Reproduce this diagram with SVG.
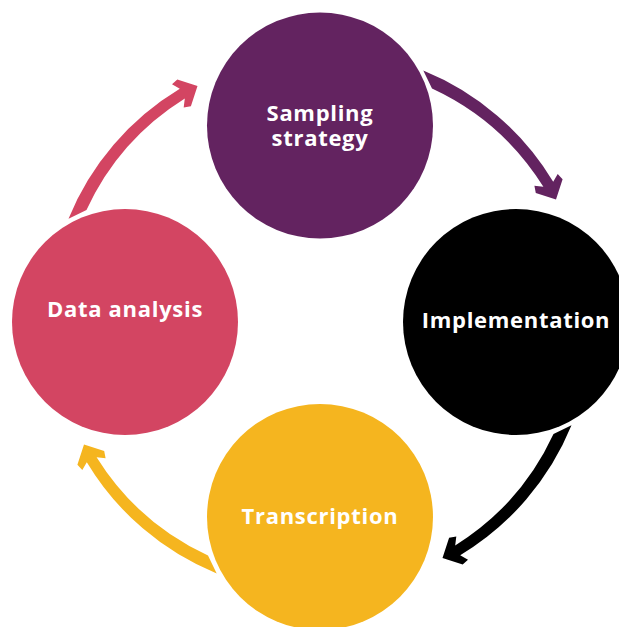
<svg xmlns="http://www.w3.org/2000/svg" width="619" height="627" viewBox="0 0 619 627">
<defs>
<style>
.lbl{font-family:"Open Sans","Liberation Sans",sans-serif;font-weight:700;font-size:22px;fill:#ffffff;text-anchor:middle;letter-spacing:0.7px}
</style>
<path id="arrowShape" d="M423.3,70.5 A271,271 0 0 1 553.2,181.8 L557.7,174 L562.6,179.3 L556,199.5 L535.8,192.9 L534.4,185.7 L543.4,186.8 A260,260 0 0 0 432,88.5 Z"/>
</defs>
<rect width="619" height="627" fill="#ffffff"/>
<g id="connectors">
<use href="#arrowShape" fill="#632360"/>
<use href="#arrowShape" fill="#000000" transform="rotate(90 320 322)"/>
<use href="#arrowShape" fill="#F5B51F" transform="rotate(180 320 322)"/>
<use href="#arrowShape" fill="#D34562" transform="rotate(270 320 322)"/>
</g>
<g id="sampling">
<circle cx="320" cy="125.5" r="113" fill="#632360"/>
<text class="lbl"><tspan x="320" y="121">Sampling</tspan><tspan x="320" y="146">strategy</tspan></text>
</g>
<g id="implementation">
<circle cx="516" cy="322" r="113" fill="#000000"/>
<text class="lbl" x="516" y="328">Implementation</text>
</g>
<g id="transcription">
<circle cx="320" cy="517" r="113" fill="#F5B51F"/>
<text class="lbl" x="320" y="524">Transcription</text>
</g>
<g id="analysis">
<circle cx="125" cy="322" r="113" fill="#D34562"/>
<text class="lbl" x="125" y="317">Data analysis</text>
</g>
</svg>
